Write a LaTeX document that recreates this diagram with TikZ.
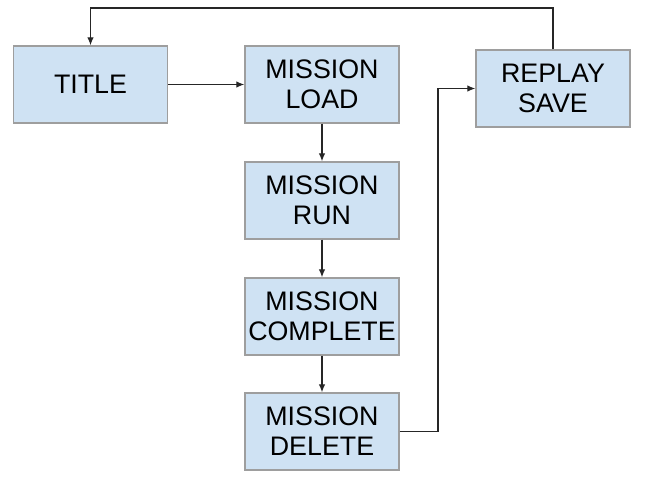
\documentclass[tikz,border=0pt]{standalone}
\usepackage{fontspec}
\setmainfont{Liberation Sans}
\usepackage{xcolor}
\usetikzlibrary{arrows.meta,positioning,calc}

\definecolor{boxblue}{HTML}{CFE2F3}
\definecolor{boxline}{HTML}{9E9E9E}
\tikzset{
	state/.style={draw=boxline, line width=1.4pt, fill=boxblue, minimum width=154pt, minimum height=77pt, align=center, inner sep=0pt, font=\fontsize{26.8}{30}\selectfont},
	flow/.style={-{Latex[length=8pt,width=6.5pt]}, line width=1.1pt, draw=black!85}
}

\begin{document}
\begin{tikzpicture}[x=1pt,y=-1pt]
	\useasboundingbox (0,0) rectangle (651,478);
	\node[state] (title) at (90.5,84.5) {TITLE};
	\node[state] (load) at (322,84.5) {MISSION\\LOAD};
	\node[state] (run) at (322,200.5) {MISSION\\RUN};
	\node[state] (complete) at (322,316.5) {MISSION\\COMPLETE};
	\node[state] (delete) at (322,431.5) {MISSION\\DELETE};
	\node[state] (replay) at (553,88.5) {REPLAY\\SAVE};
	\coordinate (turn) at (438,431.5);
	\coordinate (top) at (90.5,8);
	\draw[flow] (title) -- (load);
	\draw[flow] (load) -- (run);
	\draw[flow] (run) -- (complete);
	\draw[flow] (complete) -- (delete);
	\draw[flow] (delete.east) -- (turn) |- (replay.west);
	\draw[flow] (replay.north) |- (top) -- (title.north);
\end{tikzpicture}
\end{document}
